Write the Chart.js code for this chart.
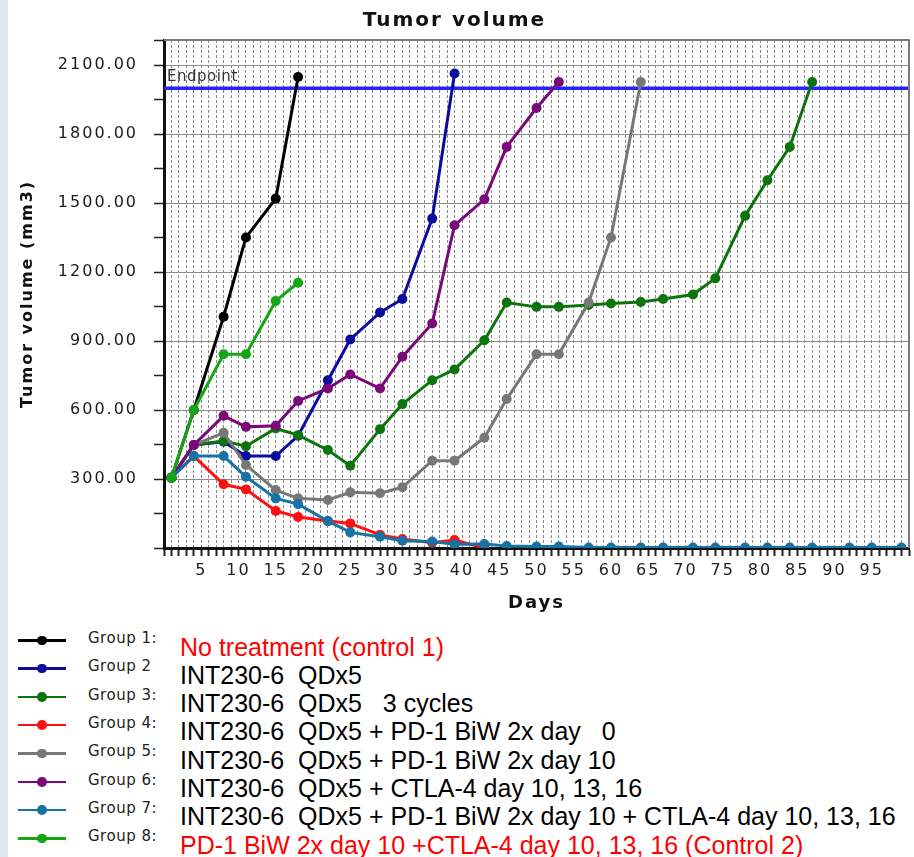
<!DOCTYPE html>
<html>
<head>
<meta charset="utf-8">
<script src="https://cdn.jsdelivr.net/npm/chart.js@4.4.1/dist/chart.umd.min.js"></script>
<style>
  html, body { margin: 0; padding: 0; background: #fff; }
  #wrap { position: relative; width: 914px; height: 857px; overflow: hidden; }
  #strip { position: absolute; left: 0; top: 0; width: 8px; height: 857px; background: #dbe9f2; }
  #chart { position: absolute; left: 0; top: 0; }
  .swatch { position: absolute; left: 18px; width: 48px; height: 2.5px; }
  .swatch i { position: absolute; left: 19px; top: -3.5px; width: 9.5px; height: 9.5px; border-radius: 50%; background: inherit; }
  .grp { position: absolute; left: 88px; font: 15px 'DejaVu Sans'; line-height: 18px; letter-spacing: 0.5px; color: #222; }
  .desc { position: absolute; left: 180px; font: 25px 'Liberation Sans'; line-height: 28px; white-space: pre; color: #000; }
</style>
</head>
<body>
<div id="wrap">
  <canvas id="chart" width="914" height="625"></canvas>
  <div id="strip"></div>
  <div id="legend"></div>
</div>
<script>
(function() {
  'use strict';

  var FONT = "'DejaVu Sans', sans-serif";

  // measurement days
  var DAYS = [1, 4, 8, 11, 15, 18, 22, 25, 29, 32, 36, 39, 43, 46, 50, 53, 57, 60, 64, 67, 71, 74, 78, 81, 84, 87, 92, 95, 99];

  // tumor volume (mm3) per group, one value per day in DAYS until the group stops
  var G1 = [306, 600, 1006, 1351, 1520, 2049];
  var G2 = [306, 448, 462, 400, 400, 488, 730, 907, 1025, 1083, 1433, 2064];
  var G3 = [306, 448, 465, 443, 520, 491, 426, 358, 517, 626, 730, 777, 904, 1068, 1049, 1049, 1057, 1064, 1070, 1083, 1103, 1173, 1445, 1600, 1745, 2027];
  var G4 = [306, 400, 277, 255, 161, 135, 117, 107, 57, 39, 23, 35, 0];
  var G5 = [306, 448, 501, 361, 252, 216, 209, 242, 238, 264, 380, 380, 480, 648, 843, 843, 1068, 1351, 2027];
  var G6 = [306, 448, 575, 527, 532, 640, 694, 755, 694, 832, 977, 1404, 1517, 1745, 1914, 2027];
  var G7 = [306, 400, 400, 310, 216, 191, 117, 68, 49, 32, 28, 16, 17, 9, 6, 6, 2, 2, 2, 2, 2, 2, 2, 2, 2, 2, 2, 2, 2];
  var G8 = [306, 600, 843, 843, 1075, 1154];

  var SERIES = [G1, G2, G3, G4, G5, G6, G7, G8];
  var COLORS = ['#000000', '#0c0c9c', '#0d730d', '#ff1010', '#777777', '#7a0a7a', '#1673a3', '#14a614'];
  var GROUP_LABELS = ['Group 1:', 'Group 2', 'Group 3:', 'Group 4:', 'Group 5:', 'Group 6:', 'Group 7:', 'Group 8:'];
  var GROUP_TEXT = [
    'No treatment (control 1)',
    'INT230-6  QDx5',
    'INT230-6  QDx5   3 cycles',
    'INT230-6  QDx5 + PD-1 BiW 2x day   0',
    'INT230-6  QDx5 + PD-1 BiW 2x day 10',
    'INT230-6  QDx5 + CTLA-4 day 10, 13, 16',
    'INT230-6  QDx5 + PD-1 BiW 2x day 10 + CTLA-4 day 10, 13, 16',
    'PD-1 BiW 2x day 10 +CTLA-4 day 10, 13, 16 (Control 2)'
  ];
  var TEXT_RED = [true, false, false, false, false, false, false, true];

  var ENDPOINT = 2000;
  var X_MIN = 0, X_MAX = 100, X_LABEL_STEP = 5;
  var Y_MIN = 0, Y_MAX = 2210, Y_STEP = 150, Y_LABEL_STEP = 300;

  var datasets = SERIES.map(function(vals, g) {
    return {
      label: GROUP_LABELS[g] + ' ' + GROUP_TEXT[g],
      data: vals.map(function(v, i) { return { x: DAYS[i], y: v }; }),
      borderColor: COLORS[g],
      backgroundColor: COLORS[g],
      borderWidth: 3,
      pointRadius: 5,
      pointBorderWidth: 0,
      pointBackgroundColor: COLORS[g],
      tension: 0,
      order: SERIES.length - g
    };
  });

  datasets.push({
    label: 'Endpoint',
    data: [{ x: X_MIN, y: ENDPOINT }, { x: X_MAX, y: ENDPOINT }],
    borderColor: '#2424ff',
    borderWidth: 3.5,
    pointRadius: 0,
    order: 100
  });

  var chartText = {
    id: 'chartText',
    beforeDraw: function(chart) {
      chart.ctx.letterSpacing = '2px';
    },
    afterDatasetsDraw: function(chart) {
      var ctx = chart.ctx, area = chart.chartArea;
      var y = chart.scales.y.getPixelForValue(ENDPOINT);
      ctx.save();
      ctx.letterSpacing = '0.5px';
      ctx.font = '15px ' + FONT;
      ctx.fillStyle = '#333';
      ctx.textAlign = 'left';
      ctx.textBaseline = 'middle';
      ctx.fillText('Endpoint', area.left + 3, y - 11);
      ctx.restore();
    },
    afterDraw: function(chart) {
      var ctx = chart.ctx, a = chart.chartArea;
      ctx.save();
      ctx.strokeStyle = '#7a7a7a';
      ctx.lineWidth = 2;
      ctx.beginPath();
      ctx.moveTo(a.left, a.top);
      ctx.lineTo(a.right, a.top);
      ctx.lineTo(a.right, a.bottom);
      ctx.stroke();
      ctx.restore();
      ctx.letterSpacing = '0px';
    }
  };

  new Chart(document.getElementById('chart'), {
    type: 'line',
    data: { datasets: datasets },
    plugins: [chartText],
    options: {
      responsive: false,
      animation: false,
      layout: { padding: { left: 0, right: 5, top: 0, bottom: 0 } },
      plugins: {
        legend: { display: false },
        tooltip: { enabled: false },
        title: {
          display: true,
          text: 'Tumor volume',
          color: '#111',
          font: { family: FONT, size: 20, weight: 'bold' },
          padding: { top: 9, bottom: 7 }
        }
      },
      scales: {
        x: {
          type: 'linear',
          min: X_MIN,
          max: X_MAX,
          afterFit: function(s) { s.height = 77; },
          ticks: {
            stepSize: 1,
            autoSkip: false,
            maxRotation: 0,
            maxTicksLimit: 200,
            color: '#222',
            padding: 5,
            font: { family: FONT, size: 16 },
            callback: function(v) { return (v % X_LABEL_STEP === 0 && v > X_MIN && v < X_MAX) ? String(v) : ''; }
          },
          grid: { color: '#8a8a8a', lineWidth: 1, tickLength: 8, tickColor: '#222', tickWidth: 2 },
          border: { color: '#111', width: 3, dash: [3, 2] },
          title: {
            display: true,
            text: 'Days',
            color: '#111',
            font: { family: FONT, size: 18, weight: 'bold' },
            padding: { top: 0, bottom: 11 }
          }
        },
        y: {
          min: Y_MIN,
          max: Y_MAX,
          afterFit: function(s) { s.width = 164; },
          ticks: {
            stepSize: Y_STEP,
            maxTicksLimit: 50,
            color: '#1a1a1a',
            padding: 16,
            font: { family: FONT, size: 16 },
            callback: function(v) { return (v > 0 && v % Y_LABEL_STEP === 0) ? v.toFixed(2) : ''; }
          },
          grid: {
            color: function(c) {
              var v = c.tick ? c.tick.value : -1;
              return ((v > 0 && v % Y_LABEL_STEP === 0) || v === Y_MAX) ? '#8c8c8c' : 'rgba(0,0,0,0)';
            },
            lineWidth: 1,
            tickLength: 10,
            tickColor: '#222',
            tickWidth: 1.5
          },
          border: { color: '#111', width: 3 },
          title: {
            display: true,
            text: 'Tumor volume (mm3)',
            color: '#111',
            font: { family: FONT, size: 16, weight: 'bold' },
            padding: { top: 18, bottom: 0 }
          }
        }
      }
    }
  });

  // legend rows below the chart
  var legend = document.getElementById('legend');
  GROUP_LABELS.forEach(function(lbl, i) {
    var lineY = 640 + i * 28.3;
    var sw = document.createElement('div');
    sw.className = 'swatch';
    sw.style.top = (lineY - 1) + 'px';
    sw.style.background = COLORS[i];
    sw.appendChild(document.createElement('i'));
    legend.appendChild(sw);

    var g = document.createElement('div');
    g.className = 'grp';
    g.style.top = (lineY - 2 - 9) + 'px';
    g.textContent = lbl;
    legend.appendChild(g);

    var d = document.createElement('div');
    d.className = 'desc';
    d.style.top = (lineY + 6.5 - 14) + 'px';
    d.style.color = TEXT_RED[i] ? '#ff0000' : '#000';
    d.textContent = GROUP_TEXT[i];
    legend.appendChild(d);
  });
})();
</script>
</body>
</html>
